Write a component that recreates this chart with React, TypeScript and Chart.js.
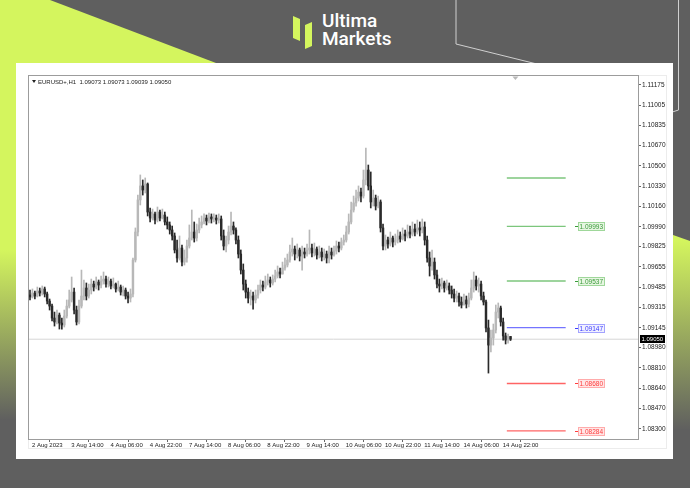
import React, { useEffect, useRef } from "react";
import { Chart, registerables } from "chart.js";

Chart.register(...registerables);

// ---------- data ----------
const SYMBOL_LINE = "EURUSD+,H1  1.09073 1.09073 1.09039 1.09050";

const Y_TICKS = [
  1.11175, 1.11005, 1.10835, 1.1067, 1.105, 1.1033, 1.1016, 1.0999, 1.09825,
  1.09655, 1.09485, 1.09315, 1.09145, 1.0898, 1.0881, 1.0864, 1.0847, 1.083,
];
const Y_MIN = 1.08216;
const Y_MAX = 1.1125;

const X_TICK_BARS = [0, 16, 32, 48, 64, 80, 96, 112, 128, 144, 160, 176, 192];
const X_TICK_LABELS = [
  "2 Aug 2023", "3 Aug 14:00", "4 Aug 06:00", "4 Aug 22:00", "7 Aug 14:00",
  "8 Aug 06:00", "8 Aug 22:00", "9 Aug 14:00", "10 Aug 06:00", "10 Aug 22:00",
  "11 Aug 14:00", "14 Aug 06:00", "14 Aug 22:00",
];
const X_MIN = -0.4;
const X_MAX = 248;

const FIRST_OPEN = 1.0942;

const CLOSES = [
  1.09403, 1.09436, 1.09411, 1.09453, 1.09436, 1.0947, 1.09428, 1.09369, 1.09327, 1.09227,
  1.09194, 1.09252, 1.09185, 1.09169, 1.09244, 1.09327, 1.09378, 1.09444, 1.09294, 1.09194,
  1.09327, 1.09411, 1.09478, 1.09411, 1.09461, 1.09511, 1.09486, 1.09528, 1.09503, 1.09536,
  1.09553, 1.09511, 1.09536, 1.09495, 1.09511, 1.0947, 1.09486, 1.09444, 1.09461, 1.09411,
  1.09394, 1.09428, 1.09712, 1.09946, 1.10214, 1.10331, 1.10297, 1.10347, 1.10113, 1.10063,
  1.10097, 1.10046, 1.10113, 1.10063, 1.10088, 1.1003, 1.10005, 1.09963, 1.09913, 1.09796,
  1.09729, 1.09812, 1.09695, 1.09729, 1.09829, 1.09896, 1.09946, 1.09896, 1.09963, 1.10005,
  1.1003, 1.10063, 1.10038, 1.10072, 1.10055, 1.10063, 1.10046, 1.10055, 1.09913, 1.09829,
  1.09879, 1.09946, 1.09996, 1.09963, 1.09879, 1.09762, 1.09628, 1.09511, 1.09444, 1.09394,
  1.09411, 1.09378, 1.09419, 1.09461, 1.09503, 1.09486, 1.09528, 1.09545, 1.0952, 1.09553,
  1.09578, 1.09612, 1.09595, 1.09645, 1.0967, 1.09712, 1.09779, 1.09804, 1.09762, 1.09796,
  1.09745, 1.09779, 1.09762, 1.09796, 1.09812, 1.09771, 1.09804, 1.09754, 1.09779, 1.09737,
  1.09762, 1.09729, 1.09779, 1.09754, 1.09787, 1.09829, 1.09812, 1.09862, 1.09879, 1.09946,
  1.1003, 1.1013, 1.10189, 1.1023, 1.1028, 1.10247, 1.10381, 1.10464, 1.10331, 1.10197,
  1.1023, 1.10163, 1.10197, 1.0998, 1.09829, 1.09879, 1.09846, 1.09896, 1.09862, 1.09879,
  1.09913, 1.09888, 1.09929, 1.09913, 1.09946, 1.09929, 1.09971, 1.09946, 1.0998, 1.09963,
  1.09988, 1.09879, 1.09729, 1.09662, 1.09695, 1.09587, 1.09511, 1.09495, 1.0952, 1.09478,
  1.09495, 1.09461, 1.09428, 1.09394, 1.09411, 1.09361, 1.09336, 1.09378, 1.09344, 1.09394,
  1.09478, 1.09545, 1.09495, 1.09511, 1.09411, 1.09361, 1.09144, 1.09001, 1.0906, 1.09127,
  1.09277, 1.09311, 1.09194, 1.09077, 1.09043, 1.09073, 1.0905,
];

const HIGHS = [
  1.09461, 1.0947, 1.09453, 1.09486, 1.09478, 1.09495, 1.09486, 1.09444, 1.09386, 1.09344,
  1.09277, 1.09294, 1.09269, 1.09227, 1.09294, 1.09378, 1.09461, 1.0957, 1.09478, 1.09327,
  1.09378, 1.09628, 1.09545, 1.0952, 1.09511, 1.09553, 1.09536, 1.0957, 1.09545, 1.09578,
  1.09612, 1.09578, 1.0957, 1.09553, 1.09562, 1.0952, 1.09536, 1.09503, 1.09495, 1.09478,
  1.09444, 1.0947, 1.09729, 1.0998, 1.10255, 1.10423, 1.10381, 1.10398, 1.10356, 1.10147,
  1.10138, 1.10113, 1.10155, 1.1013, 1.10138, 1.10113, 1.10072, 1.1003, 1.09996, 1.09938,
  1.09879, 1.09913, 1.09837, 1.09796, 1.09879, 1.10005, 1.1013, 1.1003, 1.10013, 1.10063,
  1.1008, 1.10097, 1.10088, 1.10105, 1.10097, 1.10097, 1.10088, 1.10097, 1.1008, 1.09963,
  1.09913, 1.09996, 1.10113, 1.1003, 1.0998, 1.09913, 1.09796, 1.09679, 1.09545, 1.09478,
  1.09461, 1.09444, 1.09461, 1.09503, 1.09545, 1.09536, 1.09578, 1.09595, 1.0957, 1.09587,
  1.09628, 1.09662, 1.09645, 1.09695, 1.09729, 1.09762, 1.09837, 1.09896, 1.09829, 1.09846,
  1.09812, 1.09829, 1.09812, 1.09846, 1.09963, 1.09846, 1.09854, 1.09821, 1.09829, 1.09812,
  1.09804, 1.09787, 1.09829, 1.09812, 1.09829, 1.09871, 1.09862, 1.09896, 1.09921, 1.09996,
  1.10097, 1.10197, 1.10247, 1.10297, 1.10331, 1.10314, 1.10464, 1.10648, 1.10506, 1.10448,
  1.10297, 1.10255, 1.10247, 1.10214, 1.10013, 1.09921, 1.09904, 1.09946, 1.09913, 1.09929,
  1.09963, 1.09946, 1.0998, 1.09963, 1.10005, 1.09996, 1.1003, 1.10013, 1.10046, 1.1003,
  1.10055, 1.1003, 1.09913, 1.09779, 1.09796, 1.09729, 1.09628, 1.09553, 1.09562, 1.09536,
  1.09545, 1.0952, 1.09495, 1.0947, 1.09453, 1.09436, 1.09403, 1.09428, 1.09411, 1.09436,
  1.09545, 1.09612, 1.09578, 1.09562, 1.09536, 1.09444, 1.09378, 1.0921, 1.09127, 1.09177,
  1.09336, 1.09353, 1.09327, 1.09227, 1.09102, 1.09093, 1.09073,
];

const LOWS = [
  1.09378, 1.09394, 1.09386, 1.09403, 1.09411, 1.09419, 1.09403, 1.09344, 1.09294, 1.09202,
  1.0916, 1.09177, 1.09135, 1.09135, 1.09152, 1.09227, 1.09311, 1.09361, 1.09261, 1.09169,
  1.09177, 1.09311, 1.09378, 1.09378, 1.09394, 1.09428, 1.09453, 1.0947, 1.09461, 1.09478,
  1.09511, 1.09486, 1.09486, 1.0947, 1.09478, 1.09444, 1.09453, 1.09419, 1.09411, 1.09386,
  1.09353, 1.09361, 1.09403, 1.09695, 1.09913, 1.10172, 1.10255, 1.10272, 1.1008, 1.1003,
  1.10046, 1.10013, 1.1003, 1.10038, 1.10055, 1.10005, 1.09971, 1.09929, 1.09879, 1.09771,
  1.09695, 1.09712, 1.09662, 1.0967, 1.09695, 1.09812, 1.09879, 1.09862, 1.09871, 1.09938,
  1.0998, 1.10013, 1.10005, 1.10021, 1.10021, 1.1003, 1.10013, 1.10021, 1.09879, 1.09796,
  1.09779, 1.09846, 1.09921, 1.09929, 1.09846, 1.09729, 1.09595, 1.09461, 1.09394, 1.09353,
  1.09336, 1.09302, 1.09353, 1.09394, 1.09436, 1.09453, 1.0947, 1.09503, 1.09486, 1.09503,
  1.09528, 1.09562, 1.09562, 1.09595, 1.09628, 1.09654, 1.09695, 1.09745, 1.09712, 1.09729,
  1.09704, 1.09628, 1.09729, 1.09745, 1.09762, 1.09737, 1.09745, 1.0972, 1.09729, 1.09704,
  1.09712, 1.09687, 1.09687, 1.0972, 1.09745, 1.09762, 1.09779, 1.09796, 1.09837, 1.09862,
  1.09929, 1.10013, 1.10113, 1.10163, 1.10205, 1.10197, 1.1023, 1.10339, 1.10297, 1.10147,
  1.10163, 1.1013, 1.10147, 1.09946, 1.09796, 1.09796, 1.09812, 1.09829, 1.09821, 1.09837,
  1.09854, 1.09862, 1.09879, 1.09871, 1.09896, 1.09896, 1.09913, 1.09913, 1.09929, 1.09913,
  1.09938, 1.09837, 1.09695, 1.09578, 1.09628, 1.09553, 1.09478, 1.09444, 1.0947, 1.09444,
  1.09461, 1.09428, 1.09394, 1.09361, 1.09361, 1.09327, 1.09311, 1.09336, 1.09311, 1.09319,
  1.09378, 1.09444, 1.09461, 1.09444, 1.09378, 1.09336, 1.0911, 1.08767, 1.08943, 1.09001,
  1.09102, 1.09227, 1.0916, 1.09043, 1.0901, 1.09018, 1.09039,
];

const LEVEL_VALUES = [1.10398, 1.09993, 1.09537, 1.09147, 1.0868, 1.08284];
const LEVEL_KINDS = ["res", "res", "res", "pivot", "sup", "sup"];
const LEVEL_LABELED = [false, true, true, true, true, true];
const LEVEL_FROM = 194.5;
const LEVEL_TO = 218.5;
const LEVEL_LABEL_AT = 223.6;

const CURRENT_PRICE = 1.0905;
const SHIFT_MARK_AT = 198;

// ---------- styles ----------
const BULL = "#b8b8b8";
const BEAR = "#2a2a2a";
const KIND_STYLE: Record<string, { line: string; text: string; fill: string; border: string }> = {
  res: { line: "#7cc67c", text: "#3a9a3a", fill: "#e7f6e2", border: "#9fd79a" },
  pivot: { line: "#7474ff", text: "#3b3bff", fill: "#f1f1ff", border: "#a3a3ff" },
  sup: { line: "#ff6464", text: "#ff3c3c", fill: "#ffe6e6", border: "#ffabab" },
};
const SMALL_FONT = '"Liberation Sans", Arial, sans-serif';

function App() {
  const ref = useRef<HTMLCanvasElement | null>(null);

  useEffect(() => {
    const canvas = ref.current;
    if (!canvas) return;

    const opens = CLOSES.map((c, i) => (i === 0 ? FIRST_OPEN : CLOSES[i - 1]));
    const bodies = CLOSES.map((c, i) => ({ x: i, y: [opens[i], c] }));
    const wicks = CLOSES.map((c, i) => ({
      x: i,
      y: [Math.min(LOWS[i], opens[i], c), Math.max(HIGHS[i], opens[i], c)],
    }));
    const colors = CLOSES.map((c, i) => (c >= opens[i] ? BULL : BEAR));

    const levelSets = LEVEL_VALUES.map((v, i) => ({
      type: "line" as const,
      data: [
        { x: LEVEL_FROM, y: v },
        { x: LEVEL_TO, y: v },
      ],
      borderColor: KIND_STYLE[LEVEL_KINDS[i]].line,
      borderWidth: 1.4,
      pointRadius: 0,
      order: 0,
    }));

    const overlay = {
      id: "overlay",
      afterDraw(chart: any) {
        const { ctx, chartArea: a, scales } = chart;
        const xs = scales.x;
        const ys = scales.y;
        ctx.save();
        // plot frame
        ctx.strokeStyle = "#9c9c9c";
        ctx.lineWidth = 1;
        ctx.strokeRect(Math.round(a.left) - 0.5, Math.round(a.top) - 0.5, a.right - a.left + 1, a.bottom - a.top + 1);

        // header
        ctx.fillStyle = "#222";
        ctx.beginPath();
        const hx = a.left + 3;
        const hy = a.top + 4;
        ctx.moveTo(hx, hy);
        ctx.lineTo(hx + 4, hy);
        ctx.lineTo(hx + 2, hy + 3);
        ctx.closePath();
        ctx.fill();
        ctx.font = `6px ${SMALL_FONT}`;
        ctx.textBaseline = "middle";
        ctx.textAlign = "left";
        ctx.fillText(SYMBOL_LINE, a.left + 9, a.top + 6);

        // shift marker
        const sx = xs.getPixelForValue(SHIFT_MARK_AT);
        ctx.fillStyle = "#b8b8b8";
        ctx.beginPath();
        ctx.moveTo(sx - 3, a.top + 0.5);
        ctx.lineTo(sx + 3, a.top + 0.5);
        ctx.lineTo(sx, a.top + 4);
        ctx.closePath();
        ctx.fill();

        // level labels
        ctx.font = `6.5px ${SMALL_FONT}`;
        LEVEL_VALUES.forEach((v, i) => {
          if (!LEVEL_LABELED[i]) return;
          const st = KIND_STYLE[LEVEL_KINDS[i]];
          const y = Math.round(ys.getPixelForValue(v));
          const lx = Math.round(xs.getPixelForValue(LEVEL_LABEL_AT));
          const txt = v.toFixed(5);
          const w = Math.ceil(ctx.measureText(txt).width) + 3;
          ctx.strokeStyle = st.text;
          ctx.beginPath();
          ctx.moveTo(lx - 3, y + 0.5);
          ctx.lineTo(lx, y + 0.5);
          ctx.stroke();
          ctx.fillStyle = st.fill;
          ctx.fillRect(lx, y - 4, w, 9);
          ctx.strokeStyle = st.border;
          ctx.strokeRect(lx + 0.5, y - 3.5, w - 1, 8);
          ctx.fillStyle = st.text;
          ctx.fillText(txt, lx + 1.5, y + 1);
        });

        // current price box
        const cy = Math.round(ys.getPixelForValue(CURRENT_PRICE));
        ctx.font = `6px ${SMALL_FONT}`;
        const cw = Math.ceil(ctx.measureText(CURRENT_PRICE.toFixed(5)).width) + 3;
        ctx.fillStyle = "#000";
        ctx.fillRect(a.right + 2, cy - 4, cw, 8);
        ctx.fillStyle = "#fff";
        ctx.fillText(CURRENT_PRICE.toFixed(5), a.right + 3.5, cy + 0.5);
        ctx.restore();
      },
    };

    const chart = new Chart(canvas, {
      type: "bar",
      data: {
        datasets: [
          {
            type: "bar",
            data: bodies as any,
            backgroundColor: colors,
            barThickness: 1.8,
            minBarLength: 1,
            grouped: false,
            order: 1,
          } as any,
          {
            type: "bar",
            data: wicks as any,
            backgroundColor: colors,
            barThickness: 1,
            grouped: false,
            order: 2,
          } as any,
          ...levelSets,
          {
            type: "line",
            data: [
              { x: X_MIN, y: CURRENT_PRICE },
              { x: X_MAX, y: CURRENT_PRICE },
            ],
            borderColor: "#d6d6d6",
            borderWidth: 1,
            pointRadius: 0,
            order: 5,
          } as any,
        ],
      },
      options: {
        responsive: false,
        animation: false,
        devicePixelRatio: 1,
        events: [],
        layout: { padding: { left: 13, top: 13, right: 0, bottom: 0 } },
        plugins: { legend: { display: false }, tooltip: { enabled: false } },
        scales: {
          x: {
            type: "linear",
            min: X_MIN,
            max: X_MAX,
            offset: false,
            border: { display: false },
            grid: { drawOnChartArea: false, drawTicks: true, tickLength: 3, color: "#666" },
            afterBuildTicks: (s: any) => {
              s.ticks = X_TICK_BARS.map((v) => ({ value: v }));
            },
            afterFit: (s: any) => {
              s.height = 20;
            },
            ticks: {
              autoSkip: false,
              maxRotation: 0,
              minRotation: 0,
              align: "start",
              labelOffset: 2,
              padding: 0,
              color: "#222",
              font: { family: SMALL_FONT, size: 6 },
              callback: (_v: any, idx: number) => X_TICK_LABELS[idx],
            },
          },
          y: {
            type: "linear",
            position: "right",
            min: Y_MIN,
            max: Y_MAX,
            border: { display: false },
            grid: { drawOnChartArea: false, drawTicks: true, tickLength: 3, color: "#666" },
            afterBuildTicks: (s: any) => {
              s.ticks = Y_TICKS.map((v) => ({ value: v }));
            },
            afterFit: (s: any) => {
              s.width = 35;
            },
            ticks: {
              padding: 1,
              color: "#222",
              font: { family: SMALL_FONT, size: 6.5 },
              callback: (v: any) => Number(v).toFixed(5),
            },
          },
        },
      } as any,
      plugins: [overlay],
    });
    return () => chart.destroy();
  }, []);

  const lime = "#d4f55e";
  const gray = "#5f5f5f";

  return (
    <div
      style={{
        position: "fixed",
        left: 0,
        top: 0,
        width: 690,
        height: 488,
        background: gray,
        overflow: "hidden",
      }}
    >
      <svg width={690} height={488} style={{ position: "absolute", left: 0, top: 0 }}>
        <defs>
          <linearGradient id="gl" x1="0" y1="0" x2="0" y2="488" gradientUnits="userSpaceOnUse">
            <stop offset={0} stopColor={lime} />
            <stop offset={250 / 488} stopColor={lime} />
            <stop offset={420 / 488} stopColor={gray} />
          </linearGradient>
          <linearGradient id="gr" x1="0" y1="0" x2="0" y2="488" gradientUnits="userSpaceOnUse">
            <stop offset={240 / 488} stopColor={lime} />
            <stop offset={430 / 488} stopColor={gray} />
          </linearGradient>
        </defs>
        <polygon points="0,0 50,0 216,63 216,488 0,488" fill="url(#gl)" />
        <polygon points="560,195 690,241 690,488 560,488" fill="url(#gr)" />
        <polyline points="456,0 456,44 545,66" stroke="#d0d0d0" strokeWidth={1} fill="none" />
        <polyline points="678.5,0 678.5,110 660,116" stroke="#d0d0d0" strokeWidth={1} fill="none" />
        <polygon points="293,16 300,19 300,41 293,38" fill={lime} />
        <polygon points="305,25 312,22 312,46 305,49" fill={lime} />
      </svg>
      <div
        style={{
          position: "absolute",
          left: 322,
          top: 12,
          color: "#fff",
          fontFamily: "Roboto, sans-serif",
          fontWeight: 500,
          fontSize: 19,
          lineHeight: "18px",
        }}
      >
        <div>Ultima</div>
        <div>Markets</div>
      </div>
      <div
        style={{
          position: "absolute",
          left: 16,
          top: 63,
          width: 657,
          height: 396,
          background: "#fff",
        }}
      >
        <div
          style={{
            position: "absolute",
            left: 12,
            top: 12,
            width: 639,
            height: 374,
            border: "1px solid #ececec",
            boxSizing: "border-box",
          }}
        />
        <canvas
          ref={ref}
          width={657}
          height={396}
          style={{ position: "absolute", left: 0, top: 0, width: 657, height: 396 }}
        />
      </div>
    </div>
  );
}

export default App;
